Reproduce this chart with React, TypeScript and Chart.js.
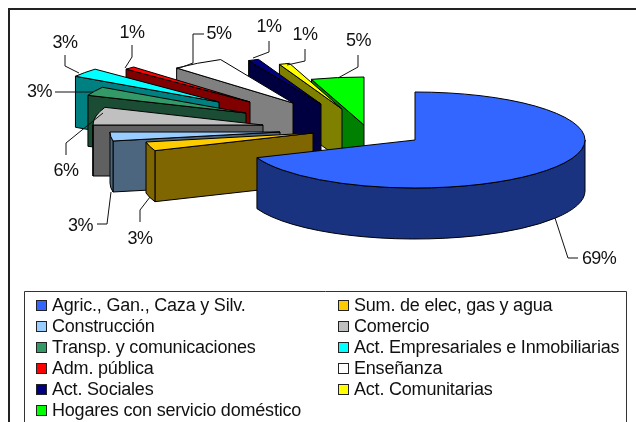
import React, { useEffect, useRef } from "react";
import { Chart, registerables } from "chart.js";

Chart.register(...registerables);

const categories = [
  "Agric., Gan., Caza y Silv.",
  "Sum. de elec, gas y agua",
  "Construcción",
  "Comercio",
  "Transp. y comunicaciones",
  "Act. Empresariales e Inmobiliarias",
  "Adm. pública",
  "Enseñanza",
  "Act. Sociales",
  "Act. Comunitarias",
  "Hogares con servicio doméstico",
];
const shares = [69, 3, 3, 6, 3, 3, 1, 5, 1, 1, 5];
const topColors = ["#3366FF", "#FFCC00", "#99CCFF", "#C0C0C0", "#339966", "#00FFFF", "#FF0000", "#FFFFFF", "#000080", "#FFFF00", "#00FF00"];
const wallColors = ["#1A3380", "#806600", "#4D6680", "#606060", "#1A4D33", "#008080", "#800000", "#808080", "#000040", "#808000", "#008000"];

// Excel-style explosion of each slice, relative to the pie centre
const explodeX = [0, -102, -135, -152, -169, -196, -165, -122, -94, -73, -51];
const explodeY = [0, -7, -8, -15, -27, -38, -38, -37, -36, -31, -15];

// Leader lines and label anchors
const leaders = [
  [[555, 218], [568, 258], [578, 258]],
  [[150, 197], [140, 210], [140, 222]],
  [[111, 192], [107, 224], [97, 224]],
  [[103, 113], [66, 143], [66, 155]],
  [[93, 92], [55, 92]],
  [[79, 73], [65, 66], [65, 55]],
  [[125, 68], [132, 57], [132, 45]],
  [[177, 69], [193, 63], [193, 34], [204, 34]],
  [[253, 58], [269, 52], [269, 41]],
  [[287, 65], [305, 61], [305, 49]],
  [[338, 78], [358, 67], [358, 55]],
];
const labelAnchors = [
  [599, 259], [140, 239], [80.5, 226], [66, 171], [39.5, 92], [65, 43], [132, 33], [219, 34], [269, 27], [305, 35], [358.5, 41.5],
];

const PIE_X = 415;
const PIE_Y = 140;
const RX = 170;
const RY = 48;
const DEPTH = 51;

const piePlugin = {
  id: "pie3d",
  beforeDatasetsDraw(chart: any) {
    const ctx = chart.ctx as CanvasRenderingContext2D;
    const meta = chart.getDatasetMeta(0);
    ctx.save();
    ctx.lineJoin = "round";
    ctx.strokeStyle = "#000";
    ctx.lineWidth = 1;
    for (let i = meta.data.length - 1; i >= 0; i--) {
      const el = meta.data[i];
      const s = el.startAngle;
      const e = el.endAngle;
      const cx = PIE_X + explodeX[i];
      const cy = PIE_Y + explodeY[i];
      const px = (a: number) => cx + RX * Math.cos(a);
      const py = (a: number) => cy + RY * Math.sin(a);

      ctx.fillStyle = wallColors[i];
      if (Math.sin(s - Math.PI / 2) > 1e-6) {
        ctx.beginPath();
        ctx.moveTo(cx, cy);
        ctx.lineTo(px(s), py(s));
        ctx.lineTo(px(s), py(s) + DEPTH);
        ctx.lineTo(cx, cy + DEPTH);
        ctx.closePath();
        ctx.fill();
        ctx.stroke();
      }
      const a0 = Math.max(s, 0);
      const a1 = Math.min(e, Math.PI);
      if (a1 > a0) {
        ctx.fillStyle = wallColors[i];
        ctx.beginPath();
        ctx.ellipse(cx, cy, RX, RY, 0, a0, a1);
        ctx.lineTo(px(a1), py(a1) + DEPTH);
        ctx.ellipse(cx, cy + DEPTH, RX, RY, 0, a1, a0, true);
        ctx.closePath();
        ctx.fill();
        ctx.stroke();
      }

      const sx = RX / el.outerRadius;
      const sy = RY / el.outerRadius;
      ctx.save();
      ctx.translate(cx, cy);
      ctx.scale(sx, sy);
      ctx.translate(-el.x, -el.y);
      el.draw(ctx);
      ctx.restore();

      ctx.strokeStyle = "#000";
      ctx.lineWidth = 1;
      ctx.beginPath();
      ctx.moveTo(cx, cy);
      ctx.ellipse(cx, cy, RX, RY, 0, s, e);
      ctx.closePath();
      ctx.stroke();
    }

    // leader lines and percentage labels
    ctx.strokeStyle = "#111";
    ctx.lineWidth = 1;
    ctx.fillStyle = "#111";
    ctx.font = '18px "Liberation Sans", Arial, sans-serif';
    (ctx as any).letterSpacing = "-0.6px";
    ctx.textAlign = "center";
    ctx.textBaseline = "middle";
    shares.forEach((v, i) => {
      const pts = leaders[i];
      ctx.beginPath();
      pts.forEach((p, k) => (k ? ctx.lineTo(p[0], p[1]) : ctx.moveTo(p[0], p[1])));
      ctx.stroke();
      ctx.fillText(`${v}%`, labelAnchors[i][0], labelAnchors[i][1]);
    });
    ctx.restore();
    return false;
  },
  afterDraw(chart: any) {
    const ctx = chart.ctx as CanvasRenderingContext2D;
    ctx.save();
    // outer frame, running off the right and bottom of the picture
    ctx.strokeStyle = "#222";
    ctx.lineWidth = 2;
    ctx.beginPath();
    ctx.moveTo(9, 424);
    ctx.lineTo(9, 9);
    ctx.lineTo(640, 9);
    ctx.stroke();
    // legend box
    ctx.strokeStyle = "#333";
    ctx.lineWidth = 1;
    ctx.beginPath();
    ctx.moveTo(24.5, 424);
    ctx.lineTo(24.5, 291.5);
    ctx.lineTo(626.5, 291.5);
    ctx.lineTo(626.5, 424);
    ctx.stroke();
    // legend entries, filled row by row in two columns
    ctx.font = '18px "Liberation Sans", Arial, sans-serif';
    (ctx as any).letterSpacing = "-0.2px";
    ctx.textAlign = "left";
    ctx.textBaseline = "middle";
    categories.forEach((name, i) => {
      const col = i % 2;
      const row = Math.floor(i / 2);
      const x = col ? 338 : 36;
      const y = 306 + row * 21;
      ctx.fillStyle = topColors[i];
      ctx.fillRect(x + 0.5, y - 5.5, 10, 10);
      ctx.strokeStyle = "#222";
      ctx.strokeRect(x + 0.5, y - 5.5, 10, 10);
      ctx.fillStyle = "#111";
      ctx.fillText(name, x + 16, y + 0.5);
    });
    ctx.restore();
  },
};

export default function App() {
  const ref = useRef<HTMLCanvasElement>(null);
  useEffect(() => {
    const chart = new Chart(ref.current!, {
      type: "pie",
      data: {
        labels: categories,
        datasets: [{ data: shares, backgroundColor: topColors, borderWidth: 0 }],
      },
      options: {
        responsive: false,
        animation: false,
        layout: { padding: { bottom: 82 } },
        plugins: { legend: { display: false }, tooltip: { enabled: false } },
      },
      plugins: [piePlugin],
    });
    return () => chart.destroy();
  }, []);
  return (
    <div style={{ position: "fixed", left: 0, top: 0, width: 636, height: 422, background: "#fff" }}>
      <canvas ref={ref} width={636} height={422} style={{ display: "block" }} />
    </div>
  );
}
